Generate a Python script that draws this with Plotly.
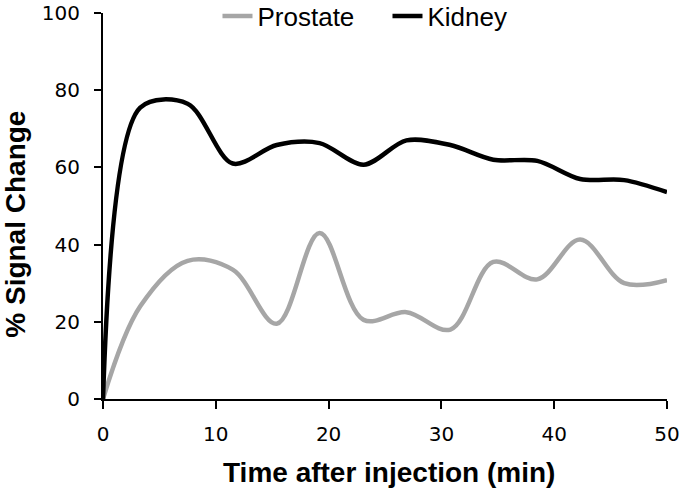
import plotly.graph_objects as go

time_min = [0, 3.3, 7.5, 11.5, 15.4, 19.2, 23.1, 26.9, 30.8, 34.6, 38.5, 42.3, 46.2, 50]
prostate = [0, 24, 35.8, 33.5, 19.5, 43, 20.5, 22.5, 18, 35.5, 31, 41.3, 30, 30.8]
kidney = [0, 75.5, 76.5, 61, 65.8, 66.3, 60.7, 67, 65.8, 62, 61.7, 57, 56.7, 53.6]

x_ticks = [0, 10, 20, 30, 40, 50]
y_ticks = [0, 20, 40, 60, 80, 100]

tick_font = dict(family="DejaVu Sans, sans-serif", size=20, color="black")
legend_font = dict(family="Liberation Sans, Arial, sans-serif", size=26, color="black")
title_font = dict(family="Liberation Sans, Arial, sans-serif", size=28, color="black")

fig = go.Figure()
fig.add_trace(go.Scatter(x=time_min, y=prostate, mode="lines", name="Prostate",
                         line=dict(color="#a6a6a6", width=4.5, shape="spline", smoothing=1.0)))
fig.add_trace(go.Scatter(x=time_min, y=kidney, mode="lines", name="Kidney",
                         line=dict(color="black", width=4.5, shape="spline", smoothing=0.9)))

fig.update_layout(
    width=682, height=490,
    margin=dict(l=103, r=15, t=13, b=91, autoexpand=False),
    plot_bgcolor="white", paper_bgcolor="white",
    showlegend=True,
    legend=dict(orientation="h", x=0.203, xanchor="left", y=0.992, yanchor="middle",
                font=legend_font, bgcolor="rgba(0,0,0,0)", entrywidth=125,
                entrywidthmode="pixels", tracegroupgap=0),
    xaxis=dict(range=[0, 50], tickvals=x_ticks, showgrid=False, zeroline=False,
               showline=True, linecolor="black", linewidth=2, ticks="outside", ticklen=8,
               tickwidth=2, tickcolor="black", tickfont=tick_font, ticklabelstandoff=8,
               ticklabeloverflow="allow"),
    yaxis=dict(range=[0, 100], tickvals=y_ticks, showgrid=False, zeroline=False,
               showline=True, linecolor="black", linewidth=2, ticks="outside", ticklen=7,
               tickwidth=2, tickcolor="black", tickfont=tick_font, ticklabelstandoff=10,
               ticklabeloverflow="allow"),
    annotations=[
        dict(text="<b>Time after injection (min)</b>", xref="paper", yref="paper",
             x=0.507, y=-0.19, xanchor="center", yanchor="middle", showarrow=False,
             font=title_font),
        dict(text="<b>% Signal Change</b>", xref="paper", yref="paper",
             x=-0.155, y=0.453, xanchor="center", yanchor="middle", showarrow=False,
             textangle=-90, font=title_font),
    ],
)

fig.write_html(
    "out.html",
    config={"displayModeBar": False},
    post_script="document.body.style.margin='0';document.body.style.overflow='hidden';",
)
